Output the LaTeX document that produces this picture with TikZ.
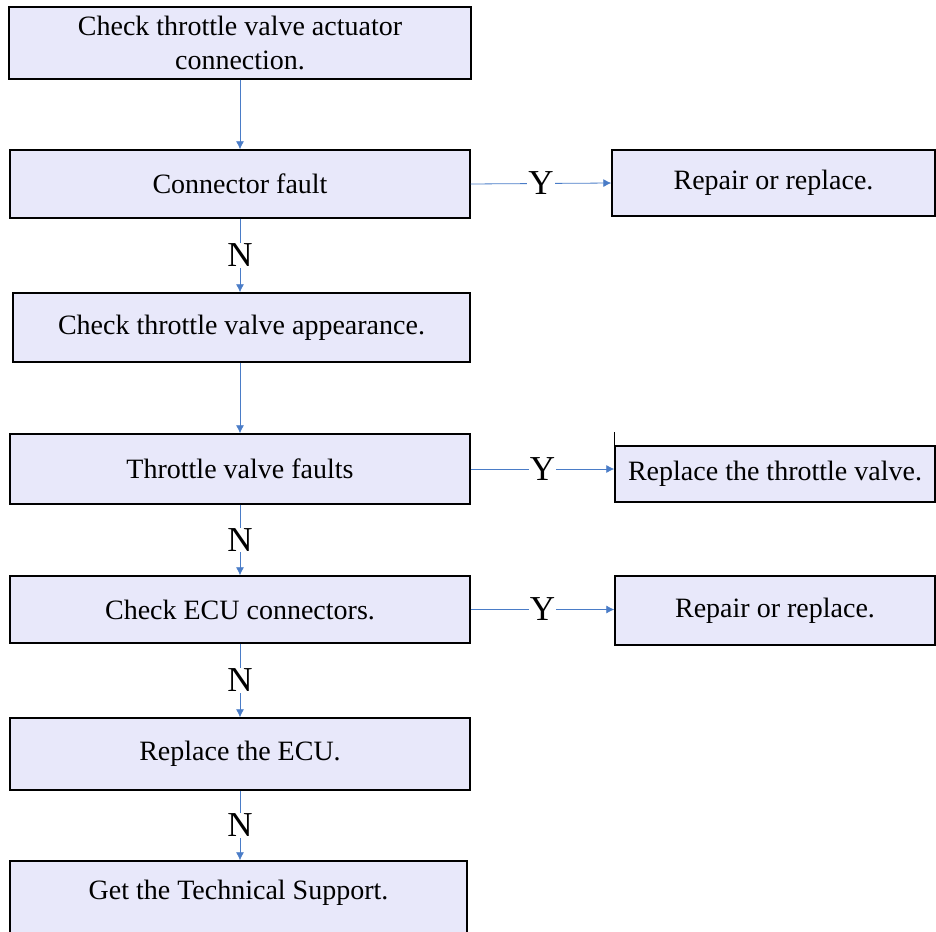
\documentclass[tikz,border=0pt]{standalone}
\usepackage{fontspec}
\setmainfont{Liberation Serif}
\usetikzlibrary{arrows.meta}
\definecolor{boxfill}{HTML}{E8E8FA}
\definecolor{linkblue}{HTML}{4A7CC7}
\begin{document}
\begin{tikzpicture}[x=1pt,y=-1pt,
  box/.style={draw=black, line width=1.4pt, fill=boxfill, inner sep=0pt, align=center,
    font=\fontsize{28}{34}\selectfont},
  link/.style={draw=linkblue, line width=0.8pt, -{Latex[length=8pt,width=8pt]}},
  yn/.style={fill=white, inner sep=1pt, font=\fontsize{35}{36}\selectfont}]
\useasboundingbox (0,0) rectangle (936,931);
\node[box, minimum width=462, minimum height=72] (b1) at (240,43) {Check throttle valve actuator\\connection.};
\node[box, minimum width=460, minimum height=68] (b2) at (240,184) {Connector fault};
\node[box, minimum width=323, minimum height=66] (r1) at (773.5,183) {Repair or replace.};
\node[box, minimum width=457, minimum height=69] (b3) at (241.5,327.5) {Check throttle valve appearance.};
\node[box, minimum width=460, minimum height=70] (b4) at (240,469) {Throttle valve faults};
\node[box, minimum width=320, minimum height=56] (r2) at (775,474) {Replace the throttle valve.};
\node[box, minimum width=460, minimum height=67] (b5) at (240,609.5) {Check ECU connectors.};
\node[box, minimum width=320, minimum height=69] (r3) at (775,610.5) {Repair or replace.};
\node[box, minimum width=460, minimum height=72] (b6) at (240,754) {Replace the ECU.};
\node[box, minimum width=457, minimum height=78, text depth=20pt] (b7) at (238.5,900) {Get the Technical Support.};
\draw[line width=1.4pt] (r2.north west) -- ++(0,-13);
\draw[link] (b1.south) -- (b2.north);
\draw[link] (b2.south) -- node[yn]{N} (b3.north -| b2.south);
\draw[link] (b3.south -| b2.south) -- (b4.north);
\draw[link] (b4.south) -- node[yn]{N} (b5.north);
\draw[link] (b5.south) -- node[yn]{N} (b6.north);
\draw[link] (b6.south) -- node[yn]{N} (b7.north -| b6.south);
\draw[link] (b2.east) -- node[yn]{Y} (r1.west);
\draw[link] (b4.east) -- node[yn]{Y} (r2.west |- b4.east);
\draw[link] (b5.east) -- node[yn]{Y} (r3.west |- b5.east);
\end{tikzpicture}
\end{document}
